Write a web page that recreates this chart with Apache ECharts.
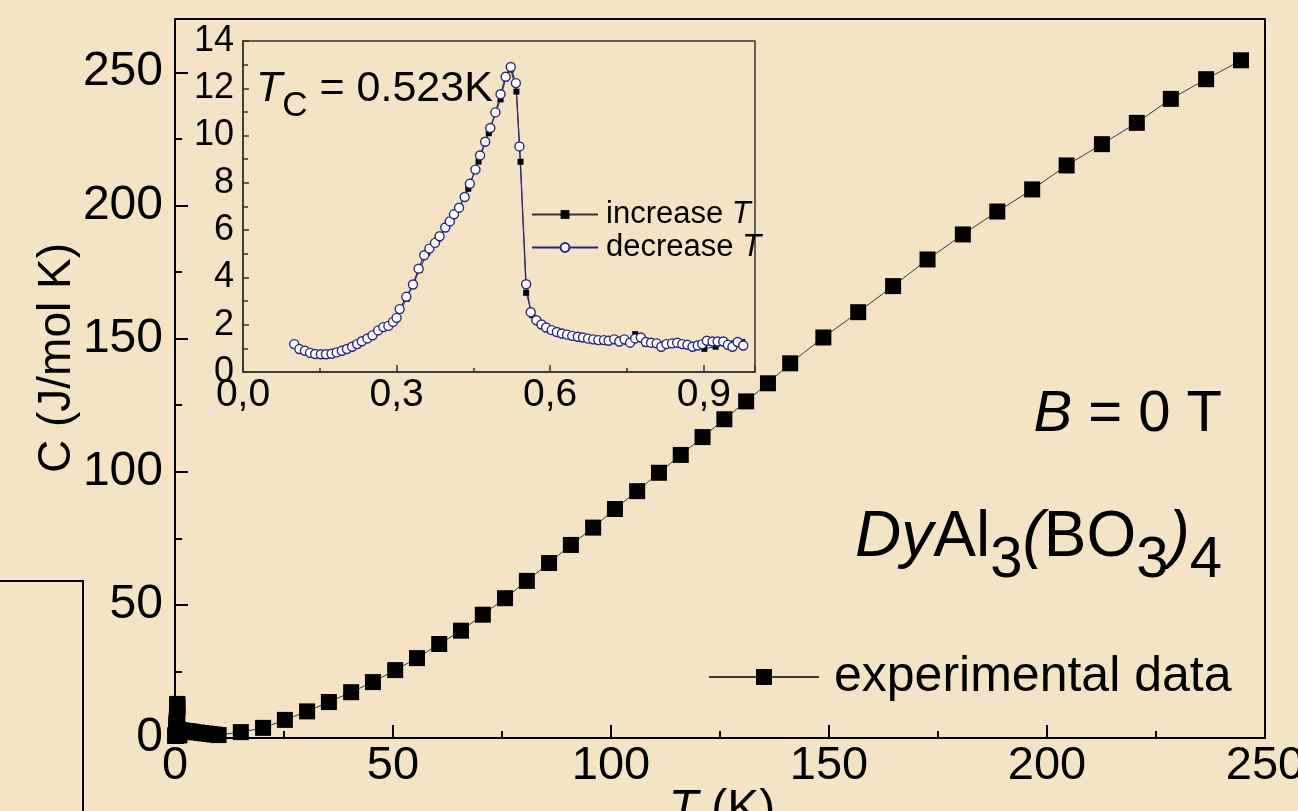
<!DOCTYPE html>
<html>
<head>
<meta charset="utf-8">
<script src="https://cdn.jsdelivr.net/npm/echarts@6/dist/echarts.min.js"></script>
<style>
  html, body { margin: 0; padding: 0; background: #f5e3c5; }
  #chart { width: 1298px; height: 811px; }
</style>
</head>
<body>
<div id="chart"></div>
<script>
// inset: cooling run (open circles)
const decT = [0.100, 0.110, 0.121, 0.131, 0.141, 0.152, 0.162, 0.173, 0.183, 0.193,
  0.203, 0.213, 0.223, 0.232, 0.243, 0.253, 0.264, 0.274, 0.284, 0.293,
  0.300, 0.306, 0.319, 0.332, 0.343, 0.354, 0.364, 0.375, 0.384, 0.395,
  0.404, 0.412, 0.422, 0.433, 0.443, 0.454, 0.463, 0.473, 0.483, 0.493,
  0.503, 0.513, 0.523, 0.533, 0.540, 0.553, 0.562, 0.573, 0.583, 0.592,
  0.603, 0.613, 0.623, 0.633, 0.643, 0.654, 0.664, 0.674, 0.684, 0.694,
  0.705, 0.714, 0.725, 0.735, 0.745, 0.756, 0.766, 0.777, 0.787, 0.797,
  0.808, 0.817, 0.827, 0.838, 0.848, 0.858, 0.868, 0.878, 0.888, 0.897,
  0.906, 0.917, 0.927, 0.938, 0.947, 0.956, 0.966, 0.977];
const decC = [1.18, 0.97, 0.90, 0.81, 0.76, 0.75, 0.75, 0.77, 0.83, 0.90,
  0.97, 1.07, 1.18, 1.30, 1.42, 1.55, 1.76, 1.90, 1.95, 2.12,
  2.29, 2.66, 3.18, 3.70, 4.37, 4.94, 5.22, 5.46, 5.74, 6.11,
  6.37, 6.67, 6.95, 7.40, 7.96, 8.56, 9.16, 9.74, 10.32, 10.98,
  11.75, 12.49, 12.90, 12.22, 9.54, 3.71, 2.53, 2.19, 2.01, 1.88,
  1.77, 1.69, 1.63, 1.58, 1.53, 1.49, 1.46, 1.41, 1.38, 1.35,
  1.35, 1.32, 1.38, 1.29, 1.38, 1.24, 1.42, 1.46, 1.27, 1.24,
  1.21, 1.07, 1.18, 1.21, 1.24, 1.18, 1.15, 1.07, 1.12, 1.18,
  1.32, 1.29, 1.29, 1.29, 1.15, 1.07, 1.27, 1.12];

// inset: heating run (filled squares)
const incT = [0.100, 0.120, 0.140, 0.160, 0.180, 0.200, 0.220, 0.240, 0.260, 0.280,
  0.300, 0.320, 0.345, 0.360, 0.380, 0.400, 0.420, 0.440, 0.460, 0.480,
  0.503, 0.513, 0.523, 0.534, 0.542, 0.553, 0.565, 0.580, 0.600, 0.620,
  0.640, 0.671, 0.690, 0.710, 0.730, 0.750, 0.766, 0.786, 0.805, 0.825,
  0.845, 0.865, 0.885, 0.901, 0.923, 0.945, 0.960, 0.975];
const incC = [1.18, 0.92, 0.78, 0.76, 0.85, 1.00, 1.17, 1.40, 1.68, 1.95,
  2.28, 3.10, 4.32, 5.05, 5.62, 6.28, 6.88, 7.75, 8.90, 10.10,
  11.53, 12.43, 12.80, 11.86, 8.89, 3.35, 2.40, 2.05, 1.75, 1.62,
  1.52, 1.46, 1.36, 1.32, 1.31, 1.28, 1.60, 1.20, 1.22, 1.20,
  1.18, 1.20, 1.15, 0.98, 1.07, 1.20, 1.22, 1.27];

// main panel: low-T cluster and the 15-245 K run
const lowT = [1.2, 1.5, 2, 2.5, 3, 3.5, 4, 5, 6, 7, 8, 9, 10];
const lowC = [2.9, 2.8, 2.7, 2.6, 2.5, 2.4, 2.3, 2.1, 1.9, 1.7, 1.5, 1.3, 1.1];
const mainT = [15.1, 20.2, 25.2, 30.3, 35.3, 40.4, 45.4, 50.5, 55.5, 60.6,
  65.6, 70.6, 75.7, 80.7, 85.8, 90.8, 95.9, 100.9, 106, 111,
  116, 121, 126, 131, 136, 141.1, 148.7, 156.7, 164.7, 172.6,
  180.7, 188.6, 196.6, 204.5, 212.6, 220.6, 228.4, 236.5, 244.5];
const mainC = [2.2, 3.8, 6.8, 10.0, 13.5, 17.2, 21.0, 25.5, 30.0, 35.3,
  40.3, 46.3, 52.5, 59.0, 65.7, 72.5, 79.0, 86.0, 92.7, 99.6,
  106.3, 113.0, 119.7, 126.4, 133.2, 140.7, 150.4, 159.9, 169.7, 179.7,
  189.1, 197.7, 206.0, 215.0, 223.0, 231.0, 240.0, 247.4, 254.5];

const FONT = '"Liberation Sans", Arial, sans-serif';
const NAVY = '#28287c';

function pairs(xs, ys) {
  return xs.map((x, i) => [x, ys[i]]);
}

const chart = echarts.init(document.getElementById('chart'));

const blackAxis = (w) => ({ show: true, lineStyle: { color: '#000', width: w } });

const option = {
  backgroundColor: '#f5e3c5',
  animation: false,
  textStyle: { fontFamily: FONT, color: '#000' },
  grid: [
    { left: 175, right: 33, top: 19, bottom: 73, show: true, borderColor: '#000', borderWidth: 2, outerBoundsMode: 'none' },
    { left: 243, width: 512, top: 41, height: 331, show: true, borderColor: '#333', borderWidth: 1.5, outerBoundsMode: 'none' }
  ],
  xAxis: [
    {
      gridIndex: 0, type: 'value', min: 0, max: 250, interval: 50,
      axisLine: blackAxis(2),
      axisTick: { inside: true, length: 13, lineStyle: { color: '#000', width: 2 } },
      minorTick: { show: true, splitNumber: 2, length: 7, lineStyle: { color: '#000', width: 2 } },
      splitLine: { show: false },
      axisLabel: { color: '#000', fontSize: 47, fontFamily: FONT, margin: 5 }
    },
    {
      gridIndex: 1, type: 'value', min: 0, max: 1, interval: 0.3,
      axisLine: { show: true, lineStyle: { color: '#333', width: 1.5 } },
      axisTick: { inside: true, length: 7, lineStyle: { color: '#333', width: 1.5 } },
      minorTick: { show: true, splitNumber: 2, length: 4, lineStyle: { color: '#333', width: 1.5 } },
      splitLine: { show: false },
      axisLabel: {
        color: '#000', fontSize: 39, fontFamily: FONT, margin: 4, showMaxLabel: false,
        formatter: (v) => v.toFixed(1).replace('.', ',')
      }
    }
  ],
  yAxis: [
    {
      gridIndex: 0, type: 'value', min: 0, max: 270, interval: 50,
      axisLine: blackAxis(2),
      axisTick: { inside: true, length: 13, lineStyle: { color: '#000', width: 2 } },
      minorTick: { show: true, splitNumber: 2, length: 7, lineStyle: { color: '#000', width: 2 } },
      splitLine: { show: false },
      axisLabel: { color: '#000', fontSize: 48, fontFamily: FONT, margin: 12, showMaxLabel: false }
    },
    {
      gridIndex: 1, type: 'value', min: 0, max: 14, interval: 2,
      axisLine: { show: true, lineStyle: { color: '#333', width: 1.5 } },
      axisTick: { inside: true, length: 6, lineStyle: { color: '#333', width: 1.5 } },
      minorTick: { show: true, splitNumber: 2, length: 5, lineStyle: { color: '#333', width: 1.5 } },
      splitLine: { show: false },
      axisLabel: { color: '#000', fontSize: 36, fontFamily: FONT, margin: 9 }
    }
  ],
  legend: [
    {
      data: ['experimental data'], left: 703, top: 647,
      itemWidth: 110, itemHeight: 20, selectedMode: false,
      textStyle: { fontSize: 50, fontFamily: FONT, color: '#000', padding: [0, 0, 0, 10] }
    },
    {
      data: ['increase T', 'decrease T'], orient: 'vertical', left: 526, top: 194,
      itemWidth: 66, itemHeight: 11, itemGap: 2, selectedMode: false,
      formatter: (n) => n.replace(/T$/, '{i|T}'),
      textStyle: {
        fontSize: 31, fontFamily: FONT, color: '#000', padding: [0, 0, 0, 3],
        rich: { i: { fontSize: 31, fontStyle: 'italic', fontFamily: FONT } }
      }
    }
  ],
  graphic: [
    {
      type: 'polyline', silent: true,
      shape: { points: [[0, 581], [83, 581], [83, 811]] },
      style: { stroke: '#000', lineWidth: 2, fill: null }
    },
    {
      type: 'text', x: 57, y: 358, rotation: Math.PI / 2,
      style: { text: 'C (J/mol K)', font: '46px ' + FONT, fill: '#000', align: 'center', verticalAlign: 'middle' }
    },
    {
      type: 'text', x: 722, y: 786,
      style: {
        text: '{i|T} (K)', font: '48px ' + FONT, fill: '#000', align: 'center', verticalAlign: 'top',
        rich: { i: { fontStyle: 'italic', fontSize: 48, fontFamily: FONT } }
      }
    },
    {
      type: 'text', x: 256, y: 124,
      style: {
        text: '{t|T}{c|C}{n| = 0.523K}', fill: '#000', align: 'left', verticalAlign: 'bottom',
        rich: {
          t: { fontSize: 43, fontStyle: 'italic', fontFamily: FONT, lineHeight: 44, padding: [0, 0, 13, 0], verticalAlign: 'bottom' },
          c: { fontSize: 35, fontFamily: FONT, lineHeight: 36, verticalAlign: 'bottom' },
          n: { fontSize: 43, fontFamily: FONT, lineHeight: 44, padding: [0, 0, 13, 0], verticalAlign: 'bottom' }
        }
      }
    },
    {
      type: 'text', x: 1222, y: 415,
      style: {
        text: '{i|B}{n| = 0 T}', fill: '#000', align: 'right', verticalAlign: 'middle',
        rich: {
          i: { fontSize: 58, fontStyle: 'italic', fontFamily: FONT },
          n: { fontSize: 58, fontFamily: FONT }
        }
      }
    },
    {
      type: 'text', x: 1222, y: 590,
      style: {
        text: '{i|Dy}{n|Al}{s|3}{i|(}{n|BO}{s|3}{i|)}{s|4}', fill: '#000', align: 'right', verticalAlign: 'bottom',
        rich: {
          i: { fontSize: 64, fontStyle: 'italic', fontFamily: FONT, lineHeight: 62, padding: [0, 0, 20, 0], verticalAlign: 'bottom' },
          n: { fontSize: 64, fontFamily: FONT, lineHeight: 62, padding: [0, 0, 20, 0], verticalAlign: 'bottom' },
          s: { fontSize: 58, fontFamily: FONT, lineHeight: 56, padding: [0, 0, 0, 0], verticalAlign: 'bottom' }
        }
      }
    }
  ],
  series: [
    {
      name: 'experimental data', type: 'line', xAxisIndex: 0, yAxisIndex: 0,
      data: pairs(incT.concat(lowT, mainT), incC.concat(lowC, mainC)),
      symbol: 'rect', symbolSize: 16, showAllSymbol: true,
      itemStyle: { color: '#000' },
      lineStyle: { color: '#3a3a3a', width: 1 },
      emphasis: { disabled: true }
    },
    {
      name: 'increase T', type: 'line', xAxisIndex: 1, yAxisIndex: 1,
      data: pairs(incT, incC),
      symbol: 'rect', symbolSize: 6, showAllSymbol: true,
      itemStyle: { color: '#000' },
      lineStyle: { color: '#333', width: 1 },
      emphasis: { disabled: true }
    },
    {
      name: 'decrease T', type: 'line', xAxisIndex: 1, yAxisIndex: 1,
      data: pairs(decT, decC),
      symbol: 'circle', symbolSize: 9, showAllSymbol: true,
      itemStyle: { color: '#fff', borderColor: NAVY, borderWidth: 1.4 },
      lineStyle: { color: NAVY, width: 1.2 },
      emphasis: { disabled: true }
    }
  ]
};

chart.setOption(option);
</script>
</body>
</html>
